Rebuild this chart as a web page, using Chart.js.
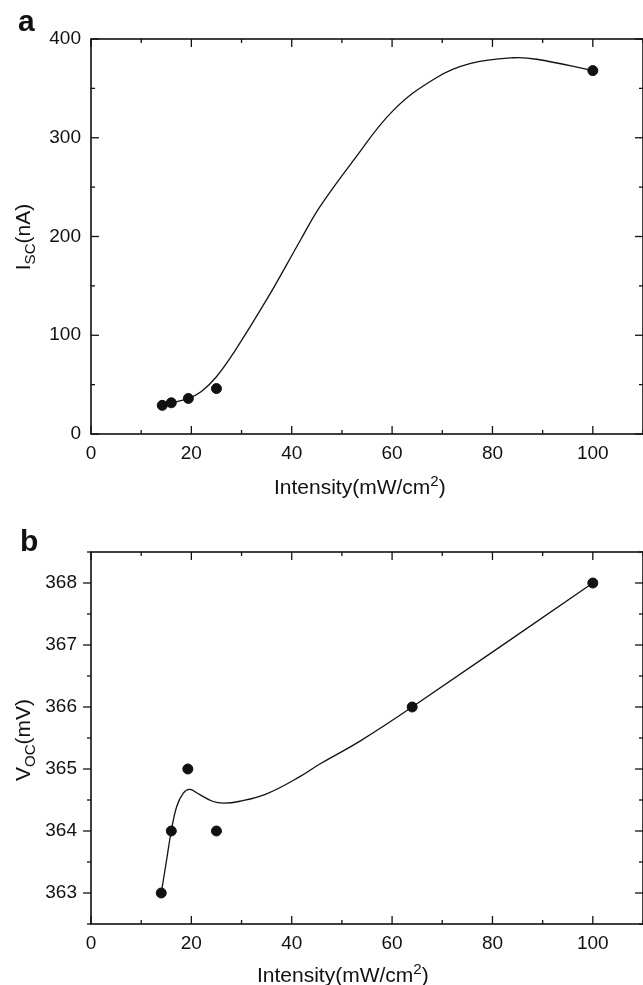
<!DOCTYPE html>
<html>
<head>
<meta charset="utf-8">
<script src="https://cdn.jsdelivr.net/npm/chart.js@4/dist/chart.umd.min.js"></script>
<style>
  body { margin: 0; background: #fff; overflow: hidden; }
  #wrap { position: relative; width: 643px; height: 985px; overflow: hidden; font-family: "Liberation Sans", Arial, sans-serif; color: #111; }
  canvas { position: absolute; left: 0; }
  .lbl { position: absolute; white-space: nowrap; font-size: 21px; line-height: 21px; }
  .lbl sup, .lbl sub { font-size: 0.72em; line-height: 0; }
  .rot { transform: translate(-50%, -50%) rotate(-90deg); }
  .panel { position: absolute; font-weight: bold; font-size: 30px; line-height: 30px; }
</style>
</head>
<body>
<div id="wrap">
  <canvas id="chartA" width="649" height="495" style="top:0"></canvas>
  <canvas id="chartB" width="649" height="490" style="top:495px"></canvas>
  <div class="panel" style="left:18px; top:6px">a</div>
  <div class="panel" style="left:20px; top:526px">b</div>
  <div class="lbl" style="left:274px; top:476px">Intensity(mW/cm<sup>2</sup>)</div>
  <div class="lbl" style="left:257px; top:964px">Intensity(mW/cm<sup>2</sup>)</div>
  <div class="lbl rot" style="left:22px; top:237px">I<sub>SC</sub>(nA)</div>
  <div class="lbl rot" style="left:22px; top:740px">V<sub>OC</sub>(mV)</div>
</div>
<script>
// panel a: short-circuit current vs light intensity
const intensityA = [14.2, 16, 19.4, 25, 100];
const iscValues = [29, 31.6, 36, 46, 368];
// fitted curve
const iscFitX = [14.2, 16, 19.4, 22, 25, 28.4, 35, 41.7, 45.6, 52.3, 60.3, 68.9, 75.5, 84.2, 88.8, 100];
const iscFitY = [29, 31.6, 36, 43, 58, 82, 136, 196, 230, 277, 328, 361, 375, 381, 379.5, 368];

// panel b: open-circuit voltage vs light intensity
const intensityB = [14, 16, 19.3, 25, 64, 100];
const vocValues = [363, 364, 365, 364, 366, 368];
const vocFitX = [14, 15, 16, 17.1, 18.4, 19.7, 21.6, 24.2, 26.4, 29.7, 35, 41.7, 45.6, 53.6, 64, 100];
const vocFitY = [363, 363.5, 364, 364.4, 364.61, 364.67, 364.59, 364.48, 364.45, 364.48, 364.6, 364.88, 365.08, 365.45, 366, 368];

const xTicks = [0, 20, 40, 60, 80, 100];
const iscTicks = [0, 100, 200, 300, 400];
const vocTicks = [363, 364, 365, 366, 367, 368];

const FONT = '"Liberation Sans", Arial, sans-serif';
const INK = '#111';

function pairs(xs, ys) {
  return xs.map((x, i) => ({ x: x, y: ys[i] }));
}

// frame + tick marks, placed with the chart's own scales
const frameTicks = {
  id: 'frameTicks',
  afterDatasetsDraw(chart, args, opts) {
    const { ctx, chartArea: a, scales: { x, y } } = chart;
    ctx.save();
    ctx.strokeStyle = INK;
    ctx.lineWidth = 1.6;
    ctx.strokeRect(a.left, a.top, a.right - a.left, a.bottom - a.top);
    ctx.lineWidth = 1.3;
    const line = (x1, y1, x2, y2) => {
      ctx.beginPath(); ctx.moveTo(x1, y1); ctx.lineTo(x2, y2); ctx.stroke();
    };
    x.ticks.forEach(t => {
      const px = x.getPixelForValue(t.value);
      const len = t.label !== '' ? 8 : 4;
      line(px, a.bottom, px, a.bottom - len);
      line(px, a.top, px, a.top + len);
    });
    y.ticks.forEach(t => {
      const py = y.getPixelForValue(t.value);
      const len = t.label !== '' ? 8 : 4;
      if (opts.leftOut) line(a.left, py, a.left - len, py);
      else line(a.left, py, a.left + len, py);
      line(a.right, py, a.right - len, py);
    });
    ctx.restore();
  }
};

function makeChart(id, pts, fit, yMin, yMax, yStep, yLabels, padTop, yPad, leftOut) {
  return new Chart(document.getElementById(id), {
    type: 'scatter',
    data: {
      datasets: [{
        data: fit,
        showLine: true,
        borderColor: INK,
        borderWidth: 1.3,
        pointRadius: 0,
        tension: 0.4
      }, {
        data: pts,
        showLine: false,
        backgroundColor: INK,
        borderColor: INK,
        pointRadius: 5
      }]
    },
    options: {
      responsive: false,
      animation: false,
      layout: { padding: { top: padTop, right: 1, left: 0, bottom: 0 } },
      plugins: {
        legend: { display: false },
        tooltip: { enabled: false },
        frameTicks: { leftOut: leftOut }
      },
      scales: {
        x: {
          type: 'linear',
          min: 0,
          max: 110,
          grid: { display: false, drawTicks: false },
          border: { display: false },
          ticks: {
            stepSize: 10,
            autoSkip: false,
            maxRotation: 0,
            padding: 8,
            color: INK,
            font: { family: FONT, size: 19 },
            callback: v => xTicks.includes(v) ? String(v) : ''
          },
          afterFit: s => { s.height = 61; s.paddingRight = 0; s.paddingLeft = 0; }
        },
        y: {
          type: 'linear',
          min: yMin,
          max: yMax,
          grid: { display: false, drawTicks: false },
          border: { display: false },
          ticks: {
            stepSize: yStep,
            autoSkip: false,
            padding: yPad,
            color: INK,
            font: { family: FONT, size: 19 },
            callback: v => yLabels.includes(v) ? String(v) : ''
          },
          afterFit: s => { s.width = 91; }
        }
      }
    },
    plugins: [frameTicks]
  });
}

makeChart('chartA', pairs(intensityA, iscValues), pairs(iscFitX, iscFitY),
  0, 400, 50, iscTicks, 39, 10, false);
makeChart('chartB', pairs(intensityB, vocValues), pairs(vocFitX, vocFitY),
  362.5, 368.5, 0.5, vocTicks, 57, 14, true);
</script>
</body>
</html>
